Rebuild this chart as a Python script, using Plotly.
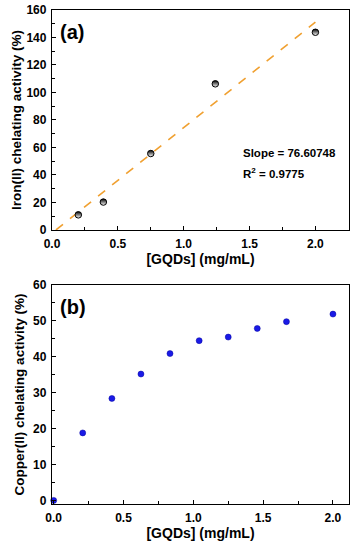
import plotly.graph_objects as go

# Panel (a) data
iron_x = [0.2, 0.39, 0.75, 1.24, 2.0]
iron_y = [11.0, 20.3, 55.6, 106.3, 143.8]
fit_x = [0.03, 2.0]
fit_y = [0.0, 151.2]
fit_text = ["Slope = 76.60748", "R<sup>2</sup> = 0.9775"]

# Panel (b) data
copper_x = [0.0, 0.208, 0.417, 0.625, 0.833, 1.042, 1.25, 1.458, 1.667, 2.0]
copper_y = [0.0, 18.8, 28.4, 35.2, 40.9, 44.5, 45.5, 47.9, 49.8, 51.9]

FONT = "Liberation Sans, Arial, sans-serif"

fig = go.Figure()
fig.add_trace(go.Scatter(x=fit_x, y=fit_y, mode="lines",
                         line=dict(color="#f0a030", width=1.6, dash="dash"),
                         xaxis="x", yaxis="y", showlegend=False, hoverinfo="skip"))
fig.add_trace(go.Scatter(x=iron_x, y=iron_y, mode="markers",
                         marker=dict(symbol="circle", size=6.5, color="black",
                                     gradient=dict(type="vertical", color="white"),
                                     line=dict(color="black", width=1)),
                         xaxis="x", yaxis="y", showlegend=False))
fig.add_trace(go.Scatter(x=copper_x, y=copper_y, mode="markers",
                         marker=dict(symbol="circle", size=6, color="#1a1ae6",
                                     line=dict(color="#0000a0", width=0.5)),
                         xaxis="x2", yaxis="y2", showlegend=False,
                         cliponaxis=False))

axis_common = dict(showline=True, linecolor="black", linewidth=1.3, mirror=True,
                   ticks="inside", ticklen=4, tickwidth=1, tickcolor="black",
                   showgrid=False, zeroline=False, automargin=False,
                   tickfont=dict(family=FONT, size=12, color="black", weight="bold"))
minor = dict(ticks="inside", ticklen=2.5, tickcolor="black", tickwidth=1)
xtitle_font = dict(family=FONT, size=14, color="black", weight="bold")
ytitle_font = dict(family=FONT, size=13.5, color="black", weight="bold")

fig.update_layout(
    width=357, height=550,
    margin=dict(l=52, r=8, t=10, b=46),
    paper_bgcolor="white", plot_bgcolor="white",
    xaxis=dict(domain=[0, 1], anchor="y", range=[0, 2.255], dtick=0.5, tickformat=".1f",
               minor=dict(dtick=0.25, **minor), ticklabelstandoff=2,
               title=dict(text="[GQDs] (mg/mL)", standoff=0, font=xtitle_font),
               **axis_common),
    yaxis=dict(domain=[0.5547, 1], anchor="x", range=[0, 160], dtick=20,
               minor=dict(dtick=10, **minor), ticklabelstandoff=2,
               title=dict(text="Iron(II) chelating activity (%)", standoff=1, font=ytitle_font),
               **axis_common),
    xaxis2=dict(domain=[0, 1], anchor="y2", range=[-0.012, 2.115], dtick=0.5, tickformat=".1f",
                minor=dict(dtick=0.25, **minor), ticklabelstandoff=2,
                title=dict(text="[GQDs] (mg/mL)", standoff=0, font=xtitle_font),
                **axis_common),
    yaxis2=dict(domain=[0, 0.4433], anchor="x2", range=[-1, 60], dtick=10,
                minor=dict(dtick=5, **minor), ticklabelstandoff=2,
                title=dict(text="Copper(II) chelating activity (%)", standoff=5, font=ytitle_font),
                **axis_common),
)

fig.add_annotation(text="(a)", xref="x domain", yref="y domain", x=0.02, y=0.90,
                   xanchor="left", yanchor="middle", showarrow=False,
                   font=dict(family=FONT, size=20, color="black", weight="bold"))
fig.add_annotation(text="(b)", xref="x2 domain", yref="y2 domain", x=0.02, y=0.90,
                   xanchor="left", yanchor="middle", showarrow=False,
                   font=dict(family=FONT, size=20, color="black", weight="bold"))
fig.add_annotation(text=fit_text[0], xref="x domain", yref="y domain", x=0.635, y=0.35,
                   xanchor="left", yanchor="middle", showarrow=False,
                   font=dict(family=FONT, size=11.5, color="black", weight="bold"))
fig.add_annotation(text=fit_text[1], xref="x domain", yref="y domain", x=0.635, y=0.26,
                   xanchor="left", yanchor="middle", showarrow=False,
                   font=dict(family=FONT, size=11.5, color="black", weight="bold"))

fig.write_html("out.html", config={"displayModeBar": False},
               post_script="document.body.style.margin='0';document.body.style.overflow='hidden';")
